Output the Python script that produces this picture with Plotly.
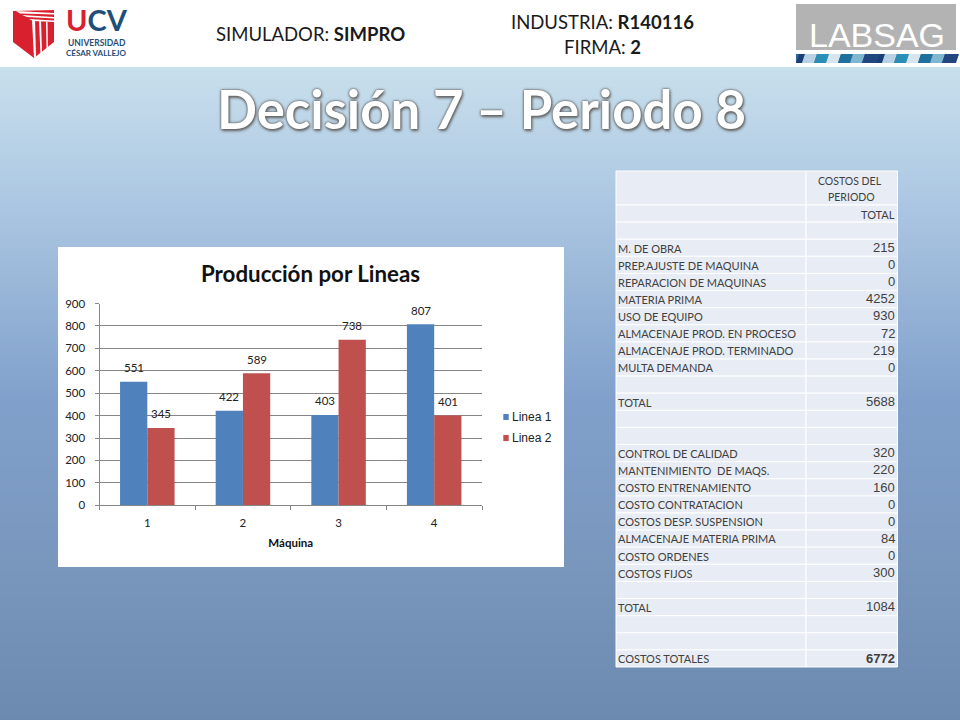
import plotly.graph_objects as go

# ---- chart data ----
maquinas = [1, 2, 3, 4]
linea_1 = [551, 422, 403, 807]
linea_2 = [345, 589, 738, 401]
y_ticks = [0, 100, 200, 300, 400, 500, 600, 700, 800, 900]
x_boundaries = [0.5, 1.5, 2.5, 3.5, 4.5]

# ---- table data ----
concepts = ["", "", "M. DE OBRA", "PREP.AJUSTE DE MAQUINA", "REPARACION DE MAQUINAS", "MATERIA PRIMA",
            "USO DE EQUIPO", "ALMACENAJE PROD. EN PROCESO", "ALMACENAJE PROD. TERMINADO", "MULTA DEMANDA",
            "", "TOTAL", "", "", "CONTROL DE CALIDAD", "MANTENIMIENTO  DE MAQS.", "COSTO ENTRENAMIENTO",
            "COSTO CONTRATACION", "COSTOS DESP. SUSPENSION", "ALMACENAJE MATERIA PRIMA", "COSTO ORDENES",
            "COSTOS FIJOS", "", "TOTAL", "", "", "COSTOS TOTALES"]
amounts = ["", "", "215", "0", "0", "4252", "930", "72", "219", "0", "", "5688", "", "",
           "320", "220", "160", "0", "0", "84", "0", "300", "", "1084", "", "", "<b>6772</b>"]

W, H = 960, 720
SANS = "Lato"
def px(x): return x / W
def py(y): return 1 - y / H

shapes = []
def rect(x0, y0, x1, y1, color, line=None):
    shapes.append(dict(type="rect", xref="paper", yref="paper", x0=px(x0), x1=px(x1), y0=py(y0), y1=py(y1),
                       fillcolor=color, line=line or dict(width=0), layer="below"))
def poly(points, color):
    path = "M " + " L ".join(f"{px(a):.5f},{py(b):.5f}" for a, b in points) + " Z"
    shapes.append(dict(type="path", xref="paper", yref="paper", path=path, fillcolor=color,
                       line=dict(width=0), layer="below"))

# background gradient
stops = [(67, (200, 223, 236)), (200, (172, 199, 226)), (400, (128, 160, 203)), (550, (122, 151, 190)), (720, (108, 137, 176))]
def grad(y):
    for (a, ca), (b, cb) in zip(stops, stops[1:]):
        if a <= y <= b:
            t = (y - a) / (b - a)
            return tuple(round(p + (q - p) * t) for p, q in zip(ca, cb))
    return stops[-1][1]
for y in range(67, 720, 4):
    c = grad(y)
    rect(0, y, 960, y + 4.5, f"rgb{c}")
rect(0, 0, 960, 67, "#ffffff")

# UCV shield
poly([(13, 11), (54, 10), (54, 42), (34, 58), (13, 42)], "#d9202f")
poly([(16, 11), (54, 13), (54, 14.5), (20, 13.5)], "#ffffff")
poly([(22, 15), (54, 17), (54, 18.5), (27, 17)], "#ffffff")
poly([(29, 19), (54, 20.5), (54, 22), (33, 21)], "#ffffff")
poly([(32, 20), (35, 20), (36, 57), (34, 58)], "#ffffff")
poly([(39, 21), (41, 21), (42, 53), (40.5, 54)], "#ffffff")
poly([(46, 22), (47.5, 22), (48, 48), (46.5, 49)], "#ffffff")

# LABSAG logo
rect(796, 4, 956, 50, "#b3b3b3")
rect(796, 54, 956, 63, "#2f6a9a")
for start in (796, 876):
    for dx0, dx1, col in [(0, 6, "#1d3f78"), (6, 18, "#b9d3e4"), (18, 30, "#2a8fb8"), (30, 42, "#d6e6ef"),
                          (42, 54, "#1f6f9f"), (54, 66, "#7fb6d0"), (66, 80, "#22477f")]:
        poly([(start + dx0 + 3, 54), (start + dx1 + 3, 54), (start + dx1, 63), (start + dx0, 63)], col)

# chart panel
rect(58, 247, 564, 567, "#ffffff")

def note(x, y, text, size, color="#1a1a1a", family=SANS, xanchor="center", **kw):
    return dict(xref="paper", yref="paper", x=px(x), y=py(y), text=text, showarrow=False,
                font=dict(size=size, color=color, family=family, **kw), xanchor=xanchor, yanchor="middle")

annotations = [
    note(310.5, 34, "SIMULADOR: <b>SIMPRO</b>", 18.5),
    note(602, 22, "INDUSTRIA: <b>R140116</b>", 18.5),
    note(602, 47, "FIRMA: <b>2</b>", 18.5),
    note(877, 34.5, "LABSAG", 34, color="#ffffff", family="Liberation Sans"),
    note(96.5, 19, "<b><span style='color:#d9202f'>U</span><span style='color:#1f4e79'>CV</span></b>", 29),
    note(96.5, 42.5, "<b>UNIVERSIDAD</b>", 8.5, color="#1f4e79"),
    note(96.5, 53.5, "<b>CÉSAR VALLEJO</b>", 8, color="#1f4e79"),
    note(481, 108, "<b>Decisión 7 – Periodo 8</b>", 52.7, color="#ffffff",
         shadow="0 0 2px #666, 0 0 3px #666, 1px 2px 3px #666"),
    note(310, 273, "<b>Producción por Lineas</b>", 22.3, color="#111111"),
]

# legend entries (marker swatches sit right next to their text, as in the reference)
rect(503.3, 414, 508.7, 420, "#4F81BD")
rect(503.3, 435, 508.7, 441, "#C0504D")
annotations.append(note(510, 417, "Linea 1", 12, color="#222222", family="Liberation Sans", xanchor="left"))
annotations.append(note(510, 438, "Linea 2", 12, color="#222222", family="Liberation Sans", xanchor="left"))

# bar value labels, anchored to the data
OFFSET = 0.142
for series, sign in ((linea_1, -1), (linea_2, 1)):
    for m, v in zip(maquinas, series):
        annotations.append(dict(xref="x", yref="y", x=m + sign * OFFSET, y=v, yshift=14, text=str(v),
                                showarrow=False, font=dict(size=11.5, family=SANS, color="#222222"),
                                xanchor="center", yanchor="middle"))

# cost table, cells laid out from the row lists
TABLE_L, TABLE_M, TABLE_R = 616, 806, 897.5
TABLE_TOP, HEADER_BOTTOM, ROW_H = 171, 205, 17.11
CELL = "#E8EDF5"
WHITE = dict(color="#ffffff", width=1)
rect(TABLE_L, TABLE_TOP, TABLE_M, HEADER_BOTTOM, CELL, WHITE)
rect(TABLE_M, TABLE_TOP, TABLE_R, HEADER_BOTTOM, CELL, WHITE)
annotations.append(note(850, 181, "COSTOS DEL", 10.5, color="#404040"))
annotations.append(note(851, 197, "PERIODO", 10.5, color="#404040"))
annotations.append(note(896.5, 214, "TOTAL", 11, color="#404040", xanchor="right"))
for i, (concept, amount) in enumerate(zip(concepts, amounts)):
    top = HEADER_BOTTOM + i * ROW_H
    rect(TABLE_L, top, TABLE_M, top + ROW_H, CELL, WHITE)
    rect(TABLE_M, top, TABLE_R, top + ROW_H, CELL, WHITE)
    mid = top + ROW_H / 2
    if concept:
        annotations.append(note(615.5, mid + 0.3, concept.replace("  ", " \u00a0"), 11, color="#404040", xanchor="left"))
    if amount:
        annotations.append(note(897, mid - 0.3, amount, 13, color="#404040", family="Liberation Sans", xanchor="right"))

fig = go.Figure()
fig.add_trace(go.Bar(x=maquinas, y=linea_1, name="Linea 1", marker=dict(color="#4F81BD", line=dict(width=0))))
fig.add_trace(go.Bar(x=maquinas, y=linea_2, name="Linea 2", marker=dict(color="#C0504D", line=dict(width=0))))

fig.update_layout(
    width=W, height=H, margin=dict(l=0, r=0, t=0, b=0, pad=0, autoexpand=False),
    paper_bgcolor="#ffffff", plot_bgcolor="rgba(0,0,0,0)",
    barmode="group", bargap=0.43, bargroupgap=0, showlegend=False,
    shapes=shapes, annotations=annotations,
    xaxis=dict(domain=[px(99.5), px(482)], anchor="y", range=[0.5, 4.5], tickvals=maquinas, ticks="", showgrid=False,
               showline=True, linecolor="#868686", linewidth=1, zeroline=False, ticklabelstandoff=7,
               tickfont=dict(size=11.5, family=SANS, color="#222222"),
               minor=dict(tickvals=x_boundaries, ticks="outside", ticklen=4, tickcolor="#868686", showgrid=False),
               title=dict(text="<b>Máquina</b>", font=dict(size=11.5, family=SANS, color="#111111"), standoff=10)),
    yaxis=dict(domain=[py(505.3), py(303.5)], anchor="x", range=[0, 900], tickvals=y_ticks, ticks="outside", ticklen=4,
               tickcolor="#868686", gridcolor="#868686", gridwidth=1, showline=True, linecolor="#868686", zeroline=False,
               ticklabelstandoff=7, tickfont=dict(size=11.5, family=SANS, color="#222222")),
)

fig.write_html("out.html", config=dict(displayModeBar=False), post_script="document.body.style.margin='0';")
